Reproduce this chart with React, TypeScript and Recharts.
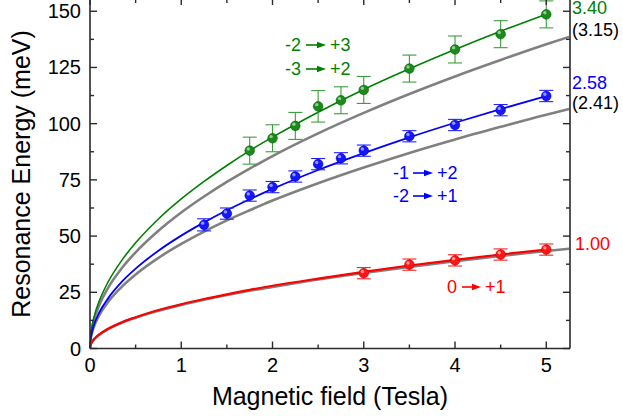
import React from 'react';
import { ComposedChart, Line, Scatter, XAxis, YAxis, ErrorBar, Customized } from 'recharts';

const FONT = '"Liberation Sans", Arial, Helvetica, sans-serif';

// Fit curves
const fitField = [0, 0.005, 0.02, 0.05, 0.1, 0.2, 0.35, 0.5, 0.75, 1, 1.25, 1.5, 1.75, 2, 2.5, 3, 3.5, 4, 4.5, 5, 5.25];
const greenFit = [0, 4.7, 9.4, 14.9, 21.0, 29.7, 39.3, 47.0, 57.6, 66.5, 74.3, 81.4, 88.0, 94.0, 105.1, 115.2, 124.4, 133.0, 141.1, 148.7, null];
const blueFit = [0, 3.5, 7.1, 11.2, 15.9, 22.4, 29.7, 35.5, 43.5, 50.2, 56.1, 61.5, 66.4, 71.0, 79.4, 86.9, 93.9, 100.4, 106.5, 112.3, null];
const redFit = [0, 1.4, 2.8, 4.4, 6.2, 8.8, 11.7, 13.9, 17.1, 19.7, 22.0, 24.1, 26.1, 27.9, 31.1, 34.1, 36.9, 39.4, 41.8, 44.0, null];
const grayUpper = [0, 4.3, 8.6, 13.5, 19.1, 27.1, 35.8, 42.8, 52.4, 60.5, 67.6, 74.1, 80.0, 85.6, 95.7, 104.8, 113.2, 121.0, 128.3, 135.3, 138.6];
const grayLower = [0, 3.3, 6.6, 10.4, 14.7, 20.8, 27.5, 32.9, 40.3, 46.5, 52.0, 57.0, 61.5, 65.8, 73.5, 80.5, 87.0, 93.0, 98.6, 104.0, 106.5];
const grayRed = [0, 1.4, 2.7, 4.3, 6.1, 8.7, 11.5, 13.7, 16.8, 19.4, 21.7, 23.8, 25.7, 27.4, 30.7, 33.6, 36.3, 38.8, 41.2, 43.4, 44.4];

// Measured points
const greenField = [1.75, 2, 2.25, 2.5, 2.75, 3, 3.5, 4, 4.5, 5];
const greenEnergy = [88, 93.5, 99, 107.7, 110.4, 115, 124.5, 133, 139.8, 148.6];
const greenErr = [6, 6, 6, 7, 6, 6, 6, 6, 6, 6];

const blueField = [1.25, 1.5, 1.75, 2, 2.25, 2.5, 2.75, 3, 3.5, 4, 4.5, 5];
const blueEnergy = [55, 60, 68, 71.8, 76.5, 82, 84.6, 88, 94.4, 99.4, 106, 112.3];
const blueErr = [2.7, 2.5, 2.5, 2.5, 2.5, 2.5, 2.5, 2.5, 2.5, 2.5, 2.5, 2.5];

const redField = [3, 3.5, 4, 4.5, 5];
const redEnergy = [33.5, 37.3, 39.2, 41.8, 44];
const redErr = [2.5, 2.5, 2.5, 2.5, 2.5];

const xMajor = [0, 1, 2, 3, 4, 5];
const xMinor = [0.5, 1.5, 2.5, 3.5, 4.5];
const yMajor = [0, 25, 50, 75, 100, 125, 150];
const yMinor = [12.5, 37.5, 62.5, 87.5, 112.5, 137.5];
const xTicks = [...xMajor, ...xMinor].sort((a, b) => a - b);
const yTicks = [...yMajor, ...yMinor].sort((a, b) => a - b);

const fitData = (vals: (number | null)[]) => fitField.map((b, i) => ({ b, v: vals[i] }));
const ptData = (f: number[], e: number[], err: number[]) => f.map((b, i) => ({ b, e: e[i], err: err[i] }));

const GREEN = '#008000';
const BLUE = '#0000ff';
const RED = '#ff0000';
const GRAY = '#808080';
const AXIS = '#2a2a2a';
const PLOT_BOTTOM = 348.5; // pixel row of the bottom frame line (margin layout)

const ball = (color: string, edge: string) => (props: any) => {
  const { cx, cy } = props;
  if (cx == null || cy == null) return <g />;
  return (
    <g>
      <circle cx={cx} cy={cy} r={4.8} fill={color} stroke={edge} strokeWidth={0.6} />
      <circle cx={cx - 1.4} cy={cy - 1.7} r={1.7} fill="#fff" opacity={0.55} />
    </g>
  );
};

// Tick marks (+ labels) drawn at the positions the axis scales give
const makeTick = (side: 'bottom' | 'top' | 'left' | 'right', majors: number[], label: boolean) => (props: any) => {
  const { x, y, payload } = props;
  const v = payload?.value;
  const major = majors.includes(v);
  const len = major ? 7 : 4;
  const nx = Number(x), ny = Number(y);
  return (
    <g>
      {side === 'top' && (
        <>
          <line x1={nx} y1={ny} x2={nx} y2={ny + (major ? 5 : 3)} stroke={AXIS} strokeWidth={1.4} />
          <line x1={nx} y1={PLOT_BOTTOM} x2={nx} y2={PLOT_BOTTOM - len} stroke={AXIS} strokeWidth={1.4} />
        </>
      )}
      {side === 'left' && <line x1={nx} y1={ny} x2={nx + len} y2={ny} stroke={AXIS} strokeWidth={1.4} />}
      {side === 'right' && <line x1={nx} y1={ny} x2={nx - len} y2={ny} stroke={AXIS} strokeWidth={1.4} />}
      {label && major && side === 'bottom' && (
        <text x={nx} y={ny + 23.5} textAnchor="middle" fontSize={20} fontFamily={FONT} fill="#000">{v}</text>
      )}
      {label && major && side === 'left' && (
        <text x={nx - 9} y={ny + 7} textAnchor="end" fontSize={20} fontFamily={FONT} fill="#000">{v}</text>
      )}
    </g>
  );
};

const Arrow = ({ x1, x2, y, color }: { x1: number; x2: number; y: number; color: string }) => (
  <g>
    <line x1={x1} y1={y} x2={x2 - 6} y2={y} stroke={color} strokeWidth={1.6} />
    <polygon points={`${x2},${y} ${x2 - 9},${y - 3.2} ${x2 - 9},${y + 3.2}`} fill={color} />
  </g>
);

const Transition = ({ x, y, from, to, color, a1, a2, t2 }: any) => (
  <g>
    <text x={x} y={y} fill={color} fontSize={18} fontFamily={FONT}>{from}</text>
    <Arrow x1={a1} x2={a2} y={y - 6} color={color} />
    <text x={t2} y={y} fill={color} fontSize={18} fontFamily={FONT}>{to}</text>
  </g>
);

const Annotations = () => (
  <g>
    <text x={330} y={405} textAnchor="middle" fontSize={25} fontFamily={FONT} fill="#000">Magnetic field (Tesla)</text>
    <text x={30} y={174} transform="rotate(-90 30 174)" textAnchor="middle" fontSize={25} fontFamily={FONT} fill="#000">Resonance Energy (meV)</text>

    <Transition x={285} y={51} from="-2" to="+3" color={GREEN} a1={306} a2={326} t2={330} />
    <Transition x={285} y={75} from="-3" to="+2" color={GREEN} a1={306} a2={326} t2={330} />
    <Transition x={393} y={179} from="-1" to="+2" color={BLUE} a1={413} a2={433} t2={437} />
    <Transition x={393} y={202} from="-2" to="+1" color={BLUE} a1={413} a2={433} t2={437} />
    <Transition x={447} y={293} from="0" to="+1" color={RED} a1={462} a2={481} t2={485} />

    <text x={572} y={13.5} fill={GREEN} fontSize={18} fontFamily={FONT}>3.40</text>
    <text x={572} y={36} fill="#000" fontSize={18} fontFamily={FONT}>(3.15)</text>
    <text x={572} y={89} fill={BLUE} fontSize={18} fontFamily={FONT}>2.58</text>
    <text x={572} y={109} fill="#000" fontSize={18} fontFamily={FONT}>(2.41)</text>
    <text x={575} y={250} fill={RED} fontSize={18} fontFamily={FONT}>1.00</text>
  </g>
);

const axisLine = { stroke: AXIS, strokeWidth: 1.6 };
const X_DOMAIN: [number, number] = [0, 5.26];
const Y_DOMAIN: [number, number] = [0, 155];

export default function App() {
  return (
    <div style={{ position: 'absolute', left: 0, top: 0, width: 623, height: 416, background: '#fff' }}>
      <ComposedChart width={623} height={416} margin={{ top: -1, right: 52, bottom: 66.5, left: 89 }}>
        <XAxis xAxisId="x" type="number" dataKey="b" domain={X_DOMAIN} ticks={xTicks} allowDataOverflow interval={0}
          height={1} tickSize={0} tickMargin={0} axisLine={axisLine} tickLine={false} tick={makeTick('bottom', xMajor, true)} />
        <XAxis xAxisId="xt" orientation="top" type="number" dataKey="b" domain={X_DOMAIN} ticks={xTicks} allowDataOverflow interval={0}
          height={1} tickSize={0} tickMargin={0} axisLine={false} tickLine={false} tick={makeTick('top', xMajor, false)} />
        <YAxis yAxisId="y" type="number" domain={Y_DOMAIN} ticks={yTicks} allowDataOverflow interval={0}
          width={1} tickSize={0} tickMargin={0} axisLine={axisLine} tickLine={false} tick={makeTick('left', yMajor, true)} />
        <YAxis yAxisId="yr" orientation="right" type="number" domain={Y_DOMAIN} ticks={yTicks} allowDataOverflow interval={0}
          width={1} tickSize={0} tickMargin={0} axisLine={axisLine} tickLine={false} tick={makeTick('right', yMajor, false)} />

        <Line xAxisId="x" yAxisId="y" data={fitData(grayUpper)} dataKey="v" type="monotone" stroke={GRAY} strokeWidth={2.6} dot={false} activeDot={false} isAnimationActive={false} />
        <Line xAxisId="x" yAxisId="y" data={fitData(grayLower)} dataKey="v" type="monotone" stroke={GRAY} strokeWidth={2.6} dot={false} activeDot={false} isAnimationActive={false} />
        <Line xAxisId="x" yAxisId="y" data={fitData(grayRed)} dataKey="v" type="monotone" stroke={GRAY} strokeWidth={2.6} dot={false} activeDot={false} isAnimationActive={false} />
        <Line xAxisId="x" yAxisId="y" data={fitData(greenFit)} dataKey="v" type="monotone" stroke={GREEN} strokeWidth={1.6} dot={false} activeDot={false} isAnimationActive={false} />
        <Line xAxisId="x" yAxisId="y" data={fitData(blueFit)} dataKey="v" type="monotone" stroke={BLUE} strokeWidth={1.8} dot={false} activeDot={false} isAnimationActive={false} />
        <Line xAxisId="x" yAxisId="y" data={fitData(redFit)} dataKey="v" type="monotone" stroke={RED} strokeWidth={2.2} dot={false} activeDot={false} isAnimationActive={false} />

        <Scatter xAxisId="x" yAxisId="y" data={ptData(greenField, greenEnergy, greenErr)} dataKey="e" fill={GREEN}
          shape={ball('#1a8a1a', '#006000')} isAnimationActive={false}>
          <ErrorBar dataKey="err" direction="y" width={7} stroke="#3c9c3c" strokeWidth={1.1} isAnimationActive={false} />
        </Scatter>
        <Scatter xAxisId="x" yAxisId="y" data={ptData(blueField, blueEnergy, blueErr)} dataKey="e" fill={BLUE}
          shape={ball('#1515ff', '#0000b0')} isAnimationActive={false}>
          <ErrorBar dataKey="err" direction="y" width={7} stroke="#2222ff" strokeWidth={1.1} isAnimationActive={false} />
        </Scatter>
        <Scatter xAxisId="x" yAxisId="y" data={ptData(redField, redEnergy, redErr)} dataKey="e" fill={RED}
          shape={ball('#ff1515', '#c00000')} isAnimationActive={false}>
          <ErrorBar dataKey="err" direction="y" width={7} stroke="#ff2222" strokeWidth={1.1} isAnimationActive={false} />
        </Scatter>

        <Customized component={Annotations} />
      </ComposedChart>
    </div>
  );
}
